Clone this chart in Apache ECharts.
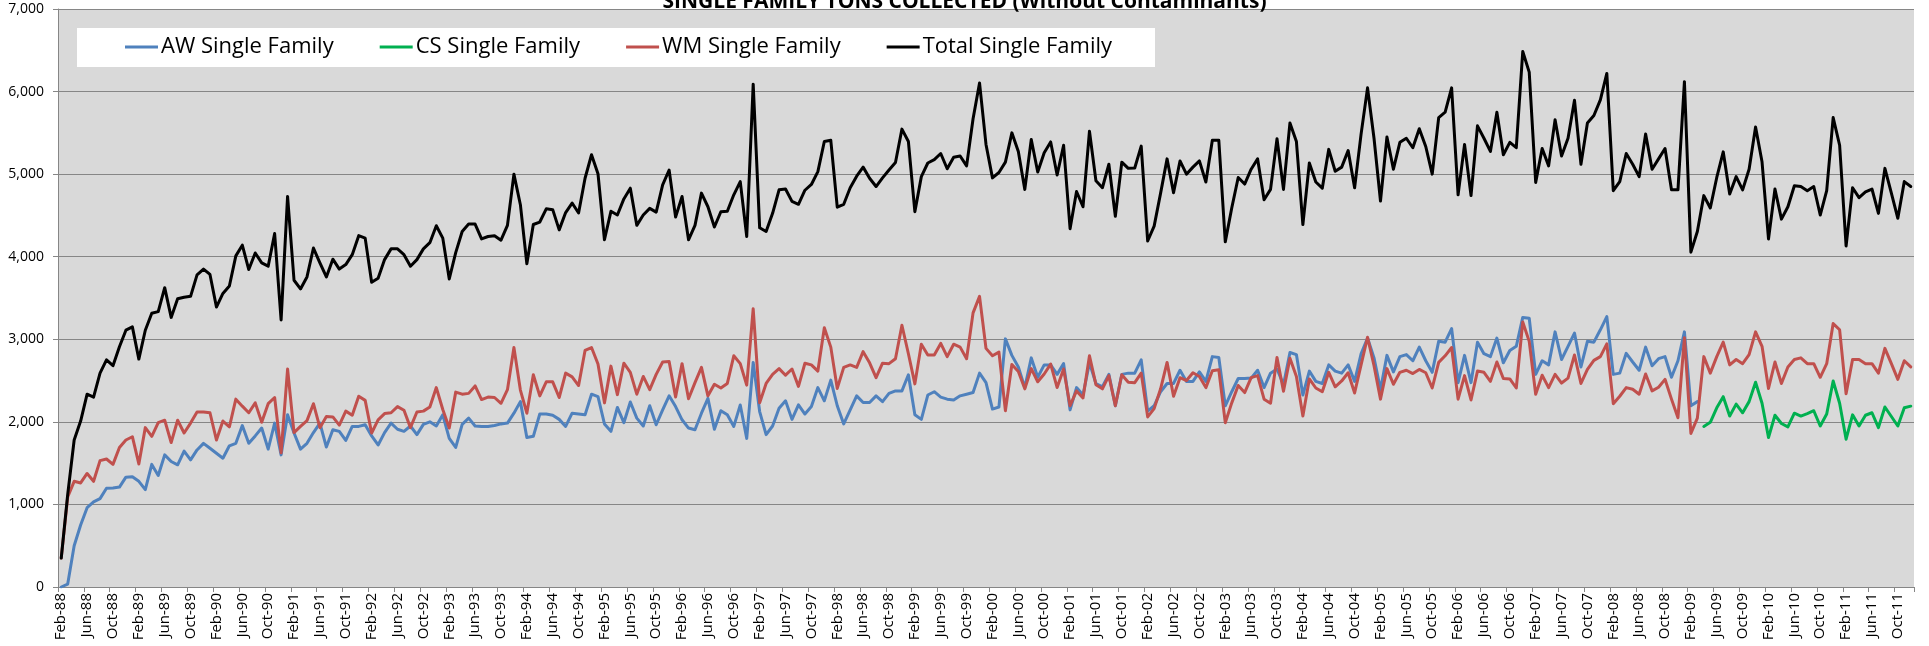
<!DOCTYPE html>
<html>
<head>
<meta charset="utf-8">
<script src="https://cdn.jsdelivr.net/npm/echarts@6/dist/echarts.min.js"></script>
<style>
html,body{margin:0;padding:0;background:#fff;}
#chart{width:1929px;height:646px;}
</style>
</head>
<body>
<div id="chart"></div>
<script>
// Month labels Feb-88 .. Dec-11
const MONTH_NAMES = ['Jan','Feb','Mar','Apr','May','Jun','Jul','Aug','Sep','Oct','Nov','Dec'];
const FIRST_YEAR = 1988, FIRST_MONTH = 1, MONTH_COUNT = 287;
const categories = [];
for (let k = 0; k < MONTH_COUNT; k++) {
  const m = (FIRST_MONTH + k) % 12;
  const y = FIRST_YEAR + Math.floor((FIRST_MONTH + k) / 12);
  categories.push(MONTH_NAMES[m] + '-' + String(y % 100).padStart(2, '0'));
}

const yTicks = [0, 1000, 2000, 3000, 4000, 5000, 6000, 7000];

const totalSingleFamily = [
350,1120,1780,2010,2335,2300,2590,2750,2680,2910,3110,3150,2760,3110,3315,3335,3625,3265,3490,3510,
3520,3780,3850,3785,3390,3555,3645,4010,4140,3845,4045,3925,3885,4280,3235,4730,3715,3610,3755,4105,
3925,3755,3970,3850,3905,4025,4255,4225,3690,3740,3965,4095,4095,4025,3885,3965,4095,4170,4375,4225,
3730,4050,4305,4395,4395,4215,4245,4255,4200,4380,5000,4630,3915,4390,4420,4580,4570,4325,4535,4650,
4530,4950,5235,5005,4205,4550,4505,4700,4830,4380,4505,4585,4540,4870,5050,4480,4730,4205,4380,4770,
4605,4360,4545,4550,4750,4910,4245,6090,4350,4305,4525,4810,4820,4670,4635,4805,4875,5030,5395,5410,
4600,4635,4835,4975,5085,4950,4850,4955,5050,5140,5545,5395,4545,4970,5135,5175,5250,5065,5205,5220,
5100,5670,6105,5360,4955,5020,5145,5500,5275,4815,5420,5025,5260,5390,4990,5350,4340,4790,4605,5520,
4920,4835,5120,4490,5145,5070,5075,5340,4190,4370,4770,5185,4775,5160,5000,5085,5160,4905,5410,5410,
4180,4590,4960,4880,5060,5185,4690,4815,5430,4815,5620,5395,4390,5135,4905,4830,5300,5035,5085,5285,
4835,5485,6045,5435,4675,5450,5060,5385,5435,5320,5550,5335,5000,5685,5750,6045,4750,5360,4740,5585,
5435,5275,5750,5235,5385,5320,6485,6235,4900,5310,5100,5660,5220,5435,5895,5120,5620,5710,5900,6220,
4800,4910,5250,5120,4970,5485,5060,5185,5310,4810,4810,6120,4055,4305,4740,4590,4960,5270,4760,4970,
4810,5060,5570,5150,4215,4820,4455,4605,4860,4850,4800,4850,4505,4800,5685,5350,4130,4835,4715,4785,
4820,4525,5070,4770,4465,4910,4850
];

const awSingleFamily = [
0,35,500,750,960,1030,1070,1195,1200,1210,1330,1335,1280,1180,1485,1350,1600,1520,1480,1645,
1540,1660,1740,1680,1620,1560,1710,1740,1955,1740,1830,1925,1670,1985,1600,2085,1865,1670,1740,1870,
1985,1695,1905,1885,1775,1945,1945,1965,1830,1720,1870,1985,1910,1885,1950,1845,1970,2000,1950,2085,
1800,1690,1970,2045,1950,1945,1945,1955,1975,1985,2105,2245,1810,1825,2095,2095,2080,2030,1945,2105,
2095,2085,2335,2305,1975,1885,2175,1990,2240,2045,1950,2195,1965,2145,2315,2185,2025,1925,1905,2105,
2285,1910,2135,2085,1945,2205,1800,2720,2125,1845,1950,2165,2255,2030,2205,2095,2185,2415,2255,2505,
2195,1975,2145,2315,2235,2235,2315,2245,2345,2375,2375,2570,2085,2030,2325,2365,2300,2275,2265,2315,
2335,2355,2590,2475,2155,2180,3005,2805,2665,2415,2775,2540,2690,2690,2575,2705,2145,2415,2325,2715,
2465,2425,2575,2195,2575,2590,2590,2750,2130,2195,2365,2465,2465,2625,2490,2490,2605,2490,2790,2780,
2195,2365,2525,2525,2530,2625,2415,2590,2640,2450,2840,2815,2325,2615,2490,2465,2690,2615,2590,2690,
2490,2825,3015,2775,2390,2805,2605,2790,2815,2740,2905,2740,2600,2975,2965,3130,2475,2805,2475,2965,
2825,2790,3015,2715,2865,2915,3265,3255,2575,2740,2690,3090,2755,2915,3075,2665,2975,2965,3115,3275,
2575,2590,2830,2725,2625,2905,2680,2765,2790,2540,2740,3090,2195,2245
];

const csValuesFromApr09 = [
1945,1995,2170,2305,2070,2215,2110,2245,2480,2225,1810,2080,1980,1940,2105,2070,2100,2135,1950,2095,
2495,2225,1790,2085,1950,2080,2110,1930,2180,2065,1950,2170,2190
];

const wmSingleFamily = [
350,1090,1280,1260,1375,1280,1530,1550,1485,1690,1780,1820,1490,1930,1825,1990,2020,1750,2020,1865,
1985,2120,2120,2110,1780,2010,1940,2275,2190,2110,2230,1995,2220,2295,1625,2640,1870,1945,2015,2220,
1930,2065,2060,1960,2130,2080,2310,2260,1865,2025,2100,2110,2185,2140,1930,2120,2130,2180,2415,2150,
1925,2360,2335,2345,2435,2270,2300,2295,2225,2390,2900,2385,2105,2570,2315,2485,2485,2295,2590,2545,
2440,2865,2900,2700,2230,2675,2330,2710,2600,2335,2550,2390,2575,2725,2730,2300,2705,2280,2475,2660,
2315,2455,2410,2465,2800,2705,2445,3370,2230,2465,2575,2645,2565,2640,2430,2710,2690,2615,3140,2905,
2405,2660,2690,2660,2850,2715,2535,2710,2705,2765,3170,2825,2460,2940,2810,2810,2950,2790,2940,2905,
2765,3320,3520,2890,2800,2845,2135,2695,2610,2400,2645,2485,2580,2700,2415,2640,2195,2375,2290,2800,
2450,2400,2560,2195,2570,2480,2475,2590,2060,2160,2400,2720,2310,2535,2500,2595,2550,2415,2620,2630,
1990,2230,2440,2355,2535,2560,2275,2225,2780,2370,2770,2550,2070,2520,2410,2365,2600,2425,2495,2595,
2350,2690,3025,2680,2275,2645,2455,2600,2625,2585,2635,2595,2410,2720,2800,2900,2275,2560,2265,2615,
2600,2490,2725,2525,2520,2410,3210,2975,2335,2565,2415,2575,2470,2530,2810,2465,2635,2745,2790,2945,
2220,2310,2415,2395,2335,2580,2375,2420,2515,2275,2050,3020,1860,2045,2790,2590,2790,2965,2690,2755,
2705,2815,3090,2915,2405,2725,2465,2665,2755,2775,2705,2705,2540,2705,3190,3115,2340,2755,2755,2705,
2705,2590,2890,2705,2515,2740,2665
];

// Align series to the category axis (AW stops at Mar-09, CS starts at Apr-09)
const CS_START_INDEX = categories.indexOf('Apr-09');
const awData = categories.map((c, k) => k < awSingleFamily.length ? awSingleFamily[k] : null);
const csData = categories.map((c, k) => k >= CS_START_INDEX ? csValuesFromApr09[k - CS_START_INDEX] : null);

const FONT = '"Open Sans", "Liberation Sans", sans-serif';

const chart = echarts.init(document.getElementById('chart'), null, {renderer: 'canvas'});

function lineSeries(name, data, color, z) {
  return {
    name: name,
    type: 'line',
    data: data,
    showSymbol: false,
    symbol: 'none',
    connectNulls: false,
    z: z,
    lineStyle: {color: color, width: 3, join: 'round', cap: 'round'},
    itemStyle: {color: color},
    emphasis: {disabled: true}
  };
}

chart.setOption({
  animation: false,
  backgroundColor: '#ffffff',
  title: {
    text: 'SINGLE FAMILY TONS COLLECTED (Without Contaminants)',
    left: 'center',
    top: -13,
    textStyle: {fontFamily: FONT, fontWeight: 'bold', fontSize: 21, color: '#000'}
  },
  graphic: [{
    type: 'rect',
    shape: {x: 77, y: 28, width: 1078, height: 39},
    style: {fill: '#ffffff'},
    z: 100
  }],
  legend: {
    left: 125,
    top: 28,
    height: 39,
    padding: [8, 0, 8, 0],
    itemGap: 46,
    itemWidth: 33,
    itemHeight: 3,
    icon: 'rect',
    z: 110,
    textStyle: {fontFamily: FONT, fontSize: 22, color: '#000', padding: [0, 0, 0, -2]},
    data: ['AW Single Family', 'CS Single Family', 'WM Single Family', 'Total Single Family']
  },
  grid: {left: 58, right: 15, top: 9, bottom: 59, containLabel: false,
         show: true, backgroundColor: '#d9d9d9', borderWidth: 0},
  xAxis: {
    type: 'category',
    data: categories,
    boundaryGap: true,
    axisLine: {show: true, lineStyle: {color: '#868686', width: 1}},
    axisTick: {show: true, interval: 3, length: 5, lineStyle: {color: '#868686'}},
    axisLabel: {interval: 3, rotate: 90, margin: 6, fontFamily: FONT, fontSize: 15, color: '#000'},
    splitLine: {show: false}
  },
  yAxis: {
    type: 'value',
    min: yTicks[0],
    max: yTicks[yTicks.length - 1],
    interval: 1000,
    axisLine: {show: true, lineStyle: {color: '#868686', width: 1}},
    axisTick: {show: true, length: 5, lineStyle: {color: '#868686'}},
    axisLabel: {margin: 14, fontFamily: FONT, fontSize: 14, color: '#000',
                formatter: v => v.toLocaleString('en-US')},
    splitLine: {show: true, lineStyle: {color: '#868686', width: 1}}
  },
  series: [
    lineSeries('AW Single Family', awData, '#4f81bd', 2),
    lineSeries('CS Single Family', csData, '#00b050', 3),
    lineSeries('WM Single Family', wmSingleFamily, '#c0504d', 4),
    lineSeries('Total Single Family', totalSingleFamily, '#000000', 5)
  ]
});
</script>
</body>
</html>
